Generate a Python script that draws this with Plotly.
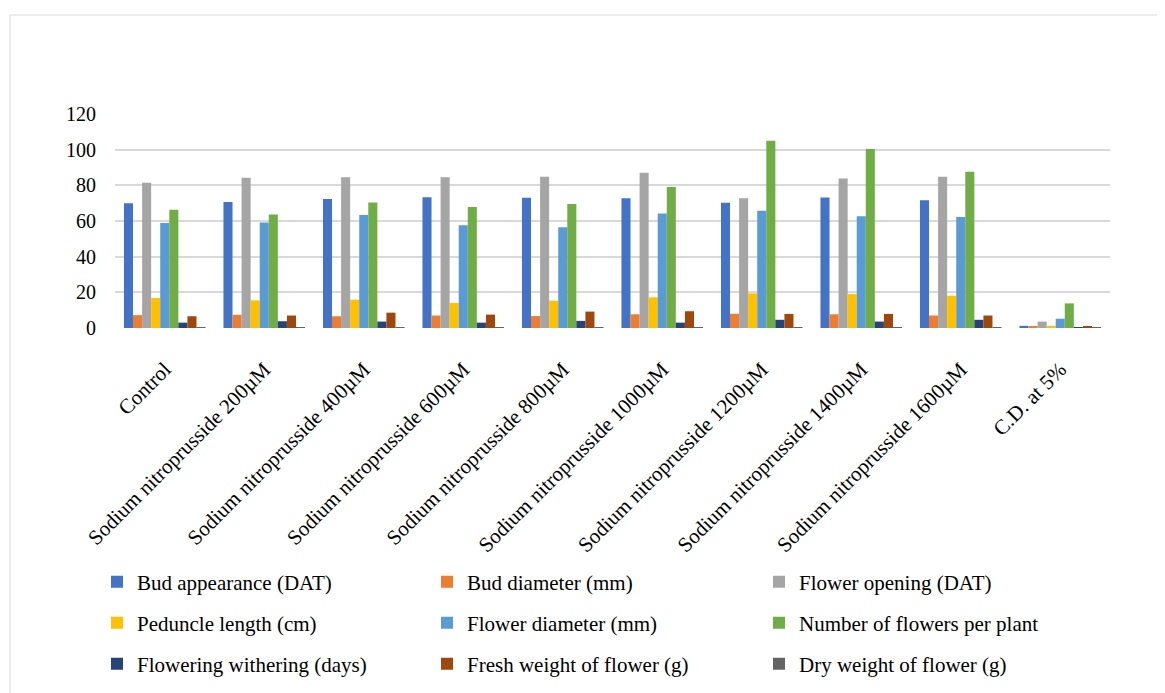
import plotly.graph_objects as go

categories = ["Control", "Sodium nitroprusside 200µM", "Sodium nitroprusside 400µM",
              "Sodium nitroprusside 600µM", "Sodium nitroprusside 800µM",
              "Sodium nitroprusside 1000µM", "Sodium nitroprusside 1200µM",
              "Sodium nitroprusside 1400µM", "Sodium nitroprusside 1600µM", "C.D. at 5%"]

series_names = ["Bud appearance (DAT)", "Bud diameter (mm)", "Flower opening (DAT)",
                "Peduncle length (cm)", "Flower diameter (mm)", "Number of flowers per plant",
                "Flowering withering (days)", "Fresh weight of flower (g)", "Dry weight of flower (g)"]

bud_appearance = [70.0, 70.6, 72.3, 73.3, 73.0, 72.8, 70.2, 73.2, 71.7, 1.2]
bud_diameter = [7.2, 7.4, 6.6, 7.0, 6.7, 7.7, 8.0, 7.7, 7.0, 0.6]
flower_opening = [81.5, 84.2, 84.5, 84.5, 84.8, 87.0, 72.8, 83.9, 84.8, 3.6]
peduncle_length = [16.8, 15.5, 15.9, 14.0, 15.3, 17.2, 19.4, 19.0, 18.1, 1.2]
flower_diameter = [58.9, 59.2, 63.3, 57.6, 56.5, 64.2, 65.7, 62.6, 62.2, 5.2]
flowers_per_plant = [66.3, 63.7, 70.4, 67.8, 69.6, 79.1, 105.0, 100.4, 87.6, 13.8]
flower_withering = [3.0, 3.8, 3.6, 3.0, 4.0, 3.0, 4.6, 3.6, 4.6, 0.4]
fresh_weight = [6.6, 7.0, 8.6, 7.5, 9.2, 9.4, 7.9, 7.9, 7.0, 0.8]
dry_weight = [0.5, 0.5, 0.5, 0.5, 0.5, 0.5, 0.5, 0.5, 0.5, 0.2]

y_ticks = [0, 20, 40, 60, 80, 100, 120]

colors = ["#4472C4", "#ED7D31", "#A5A5A5", "#FFC000", "#5B9BD5",
          "#70AD47", "#264478", "#9E480E", "#636363"]

values = [bud_appearance, bud_diameter, flower_opening, peduncle_length, flower_diameter,
          flowers_per_plant, flower_withering, fresh_weight, dry_weight]

FONT = "Liberation Serif, Times New Roman, serif"

# the page puts the figure 8 px in from the top-left corner
OFF = 8
W, H = 1165 - OFF, 693 - OFF
# target plot area in screenshot pixels
PL, PR, PT, PB = 115, 1110, 114, 328
left, right = PL - OFF, W - (PR - OFF)
top, bottom = PT - OFF, H - (PB - OFF)
pw = W - left - right
ph = H - top - bottom

legend_cols = [97, 427, 759]
legend_rows = [582, 623, 664]

fig = go.Figure()
legend_layout = {}
for i, (name, vals, col) in enumerate(zip(series_names, values, colors)):
    lid = "legend" if i == 0 else f"legend{i + 1}"
    fig.add_trace(go.Bar(
        x=categories, y=vals, name=name,
        marker=dict(color=col, line=dict(width=0)),
        legend=lid,
    ))
    legend_layout[lid] = dict(
        orientation="h", xref="container", yref="container",
        x=(legend_cols[i % 3] - OFF) / W, y=1 - (legend_rows[i // 3] - OFF) / H,
        xanchor="left", yanchor="middle",
        font=dict(family=FONT, size=21, color="#000000"),
        itemwidth=30, bgcolor="rgba(0,0,0,0)",
    )

fig.update_layout(
    width=W, height=H,
    margin=dict(l=left, r=right, t=top, b=bottom, autoexpand=False),
    paper_bgcolor="white", plot_bgcolor="white",
    barmode="group", bargap=0.18, bargroupgap=0.0,
    font=dict(family=FONT, size=20, color="#000000"),
    showlegend=True,
    xaxis=dict(
        tickangle=-45, tickfont=dict(family=FONT, size=21, color="#000000"),
        showgrid=False, showline=False, zeroline=False, ticks="",
        ticklabelstandoff=24,
    ),
    yaxis=dict(
        range=[0, 120], tickvals=y_ticks, showgrid=True, gridcolor="#D9D9D9",
        gridwidth=2, zeroline=False, showline=False, ticks="",
        tickfont=dict(family=FONT, size=20, color="#000000"),
        ticklabelstandoff=18,
    ),
    shapes=[dict(
        type="rect", xref="paper", yref="paper",
        x0=(10 - PL) / pw, x1=(1200 - PL) / pw,
        y0=(PB - 720) / ph, y1=(PB - 15) / ph,
        line=dict(color="#D9D9D9", width=1), fillcolor="rgba(0,0,0,0)", layer="below",
    )],
    **legend_layout,
)

fig.write_html("out.html")
